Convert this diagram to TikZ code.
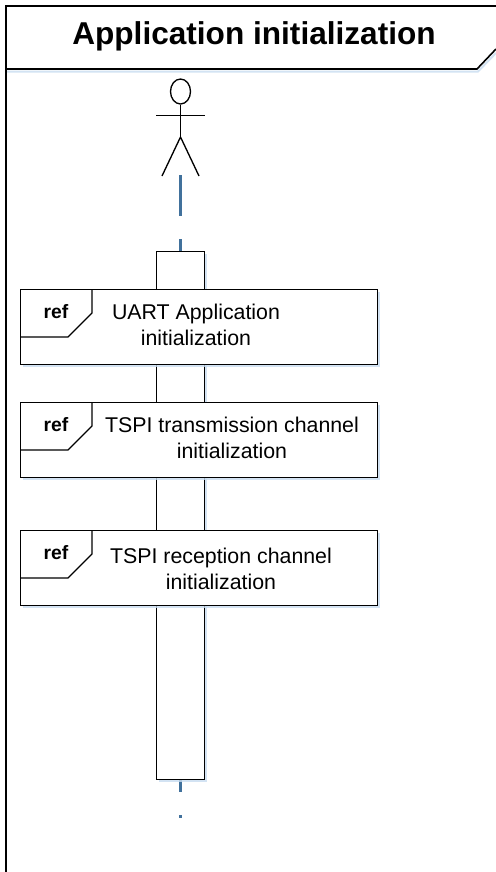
\documentclass[tikz,border=0pt]{standalone}
\usepackage{fontspec}
\setmainfont{Liberation Sans}
\usetikzlibrary{shadows, shapes.geometric}

\definecolor{lifeblue}{HTML}{41719C}
\definecolor{shadowblue}{HTML}{C9DDF0}
\tikzset{
    softshadow/.style={drop shadow={shadow xshift=1.5pt, shadow yshift=-2pt, fill=shadowblue, opacity=0.8}},
    umlline/.style={line width=1pt},
    refbox/.style={draw, umlline, fill=white, minimum width=267.75pt, minimum height=56.25pt, anchor=north west, inner sep=0pt, softshadow},
    reflabel/.style={font=\fontsize{16}{19.5}\selectfont, align=center, inner sep=0pt},
    reftag/.style={font=\fontsize{14.5}{17}\bfseries\selectfont, inner sep=0pt},
    lifeline/.style={draw=lifeblue, line width=1.8pt, dash pattern=on 30.75pt off 17.25pt},
}

\begin{document}
\begin{tikzpicture}[x=0.75pt, y=-0.75pt]
    \useasboundingbox[fill=white] (0,0) rectangle (496,872);

    % frame
    \coordinate (framebottom) at (6,874);
    \coordinate (frametop) at (6,6);
    \coordinate (frameright) at (498,6);
    \coordinate (titleend) at (496,49);
    \coordinate (titlecorner) at (477,69);
    \coordinate (titlestart) at (6,69);
    \draw[line width=1.5pt, shadowblue, opacity=0.8] (7,71.5) -- (478,71.5) -- (496,53);
    \draw[line width=1.2pt] (framebottom) -- (frametop) -- (frameright);
    \draw[line width=1.2pt] (titlestart) -- (titlecorner) -- (titleend);
    \node[font=\fontsize{23.7}{28}\bfseries\selectfont, inner sep=0pt] (title) at (254,36) {Application initialization};

    % actor
    \node[draw, umlline, ellipse, minimum width=15pt, minimum height=18.75pt, inner sep=0pt] (head) at (180.5,91.5) {};
    \coordinate (hip) at (180.5,137);
    \coordinate (armleft) at (156,115.5);
    \coordinate (armright) at (205,115.5);
    \coordinate (footleft) at (162,176);
    \coordinate (footright) at (199,176);
    \draw[umlline] (head.south) -- (hip);
    \draw[umlline] (armleft) -- (armright);
    \draw[umlline] (footleft) -- (hip) -- (footright);

    % lifeline goes behind the activation
    \coordinate (lifetop) at (180.5,175);
    \coordinate (lifeend) at (180.5,818);
    \draw[lifeline] (lifetop) -- (lifeend);
    \node[draw, umlline, fill=white, minimum width=36pt, minimum height=396pt, anchor=north, inner sep=0pt, softshadow] (activation) at (180.5,251) {};

    \foreach \name/\y/\xtext/\ytext/\lines in {uart/289/196/325/{UART Application\\initialization},
        tx/402/232/438/{TSPI transmission channel\\initialization},
        rx/530/221/569/{TSPI reception channel\\initialization}}
    {
    \node[refbox] (\name) at (20,\y) {};
    \draw[umlline] (\name.north west) ++(72,0) -- ++(0,24) -- ++(-24,24) -- ++(-48,0);
    \node[reftag] (\name tag) at (56,\y+23) {ref};
    \node[reflabel] (\name label) at (\xtext,\ytext) {\lines};
    }
\end{tikzpicture}
\end{document}
